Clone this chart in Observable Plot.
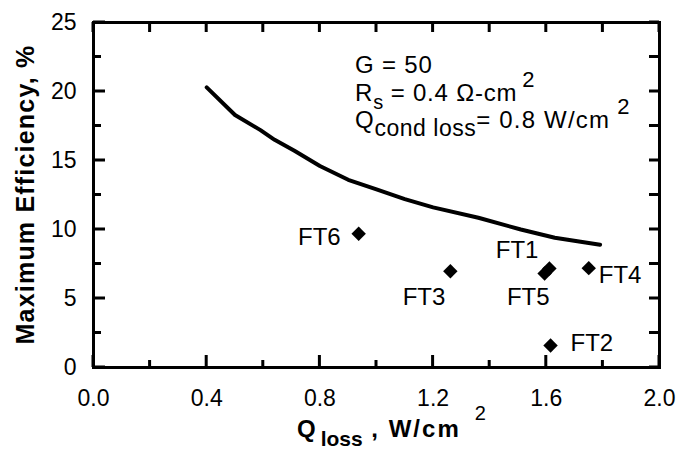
<!DOCTYPE html>
<html><head><meta charset="utf-8">
<script src="https://cdn.jsdelivr.net/npm/d3@7"></script>
<script src="https://cdn.jsdelivr.net/npm/@observablehq/plot@0.6"></script>
<style>body{margin:0;background:#fff}</style>
</head><body><div id="chart"></div>
<script>
// Model curve: maximum efficiency vs Q_loss
const curveQ   = [0.40, 0.50, 0.59, 0.64, 0.71, 0.80, 0.90, 1.00, 1.10, 1.20, 1.36, 1.51, 1.63, 1.79];
const curveEff = [20.3, 18.3, 17.2, 16.5, 15.7, 14.6, 13.6, 12.9, 12.2, 11.6, 10.85, 10.0, 9.4, 8.9];
// Measured cells
const cellNames = ["FT1", "FT2", "FT3", "FT4", "FT5", "FT6"];
const cellQ     = [1.611, 1.615, 1.261, 1.750, 1.594, 0.937];
const cellEff   = [7.17, 1.59, 6.98, 7.20, 6.81, 9.69];
// Tick values / labels
const xMajor = [0, 0.4, 0.8, 1.2, 1.6, 2.0];
const xMinor = [0.2, 0.6, 1.0, 1.4, 1.8];
const yMajor = [0, 5, 10, 15, 20, 25];
const yMinor = [2.5, 7.5, 12.5, 17.5, 22.5];
const xLabelMain = "Q", xLabelSub = "loss", xLabelRest = " , W/cm", xLabelSup = "2";
const yLabel = "Maximum Efficiency, %";
const annoLines = [
  {main: "G = 50"},
  {main: "R", sub: "s", rest: " = 0.4 Ω-cm", sup: "2"},
  {main: "Q", sub: "cond loss", rest: "= 0.8 W/cm", sup: "2"}
];
const annoX = 0.926, annoY = [21.3, 19.28, 17.32];

// label placement (pixel offsets, style only)
const labelPos = {
  FT1: {dx: -11, dy: -18, anchor: "end"},
  FT2: {dx: 20, dy: -2, anchor: "start"},
  FT3: {dx: -5, dy: 26, anchor: "end"},
  FT4: {dx: 10, dy: 7, anchor: "start"},
  FT5: {dx: 5, dy: 24, anchor: "end"},
  FT6: {dx: -18, dy: 4, anchor: "end"}
};

const font = "'Liberation Sans', Arial, Helvetica, sans-serif";
const cells = cellNames.map((n, i) => ({name: n, q: cellQ[i], eff: cellEff[i]}));
const curve = curveQ.map((v, i) => ({q: v, eff: curveEff[i]}));

const W = 684, H = 452, mL = 93, mR = 25, mT = 22, mB = 85;
const xMin = 0, xMax = 2, yMin = 0, yMax = 25;

const plot = Plot.plot({
  width: W, height: H,
  marginLeft: mL, marginRight: mR, marginTop: mT, marginBottom: mB,
  style: {fontFamily: font, fontSize: "23px", color: "#000", background: "#fff"},
  x: {domain: [xMin, xMax]},
  y: {domain: [yMin, yMax]},
  marks: [
    Plot.axisX(xMajor, {anchor: "bottom", tickSize: 0, tickPadding: 22, tickFormat: d => d.toFixed(1), label: null, fontSize: 23, letterSpacing: 2}),
    Plot.axisY(yMajor, {anchor: "left", tickSize: 0, tickPadding: 17, label: null, fontSize: 23}),
    Plot.line(curve, {x: "q", y: "eff", stroke: "#000", strokeWidth: 4, strokeLinejoin: "round", strokeLinecap: "round"}),
    Plot.dot(cells, {x: "q", y: "eff", symbol: "diamond2", r: 6.5, fill: "#000", stroke: "none"}),
    ...cells.map(c => Plot.text([c], {x: "q", y: "eff", text: "name", dx: labelPos[c.name].dx, dy: labelPos[c.name].dy, textAnchor: labelPos[c.name].anchor, fontSize: 24, fill: "#000"})),
    Plot.frame({stroke: "#000", strokeWidth: 3})
  ]
});
document.getElementById("chart").appendChild(plot);

const svg = d3.select(plot);
const sx = plot.scale("x"), sy = plot.scale("y");

// inward ticks on all four sides, placed with the plot's own scales
{
  const X = v => sx.apply(v), Y = v => sy.apply(v);
  const p = d3.path();
  xMajor.forEach(v => { p.moveTo(X(v), Y(yMin)); p.lineTo(X(v), Y(yMin) - 12); });
  xMinor.forEach(v => { p.moveTo(X(v), Y(yMin)); p.lineTo(X(v), Y(yMin) - 7); });
  xMajor.concat(xMinor).forEach(v => { p.moveTo(X(v), Y(yMax)); p.lineTo(X(v), Y(yMax) + 10); });
  yMajor.forEach(v => { p.moveTo(X(xMin), Y(v)); p.lineTo(X(xMin) + 12, Y(v)); });
  yMinor.forEach(v => { p.moveTo(X(xMin), Y(v)); p.lineTo(X(xMin) + 8, Y(v)); });
  yMajor.concat(yMinor).forEach(v => { p.moveTo(X(xMax), Y(v)); p.lineTo(X(xMax) - 10, Y(v)); });
  svg.append("path").attr("d", p.toString()).attr("fill", "none").attr("stroke", "#000").attr("stroke-width", 3);
}

// annotation block
annoLines.forEach((ln, i) => {
  const long = ln.sub && ln.sub.length > 1;
  const t = svg.append("text")
    .attr("x", sx.apply(annoX)).attr("y", sy.apply(annoY[i]))
    .attr("text-anchor", "start")
    .attr("font-family", font).attr("font-size", 24).attr("letter-spacing", 0.8).attr("fill", "#000");
  t.append("tspan").text(ln.main);
  if (ln.sub) t.append("tspan").attr("dy", 8).attr("font-size", long ? 23 : 20).attr("letter-spacing", long ? 0.5 : 0).text(ln.sub);
  if (ln.rest) t.append("tspan").attr("dy", ln.sub ? -8 : 0).attr("letter-spacing", long ? 1.2 : 0.8).text(ln.rest);
  if (ln.sup) t.append("tspan").attr("dy", -14).attr("dx", long ? 7 : 5).attr("font-size", 22).text(ln.sup);
});

// x axis label
{
  const t = svg.append("text")
    .attr("x", 297).attr("y", 437)
    .attr("text-anchor", "start")
    .attr("font-family", font).attr("font-size", 24).attr("font-weight", "bold").attr("letter-spacing", 2).attr("fill", "#000");
  t.append("tspan").text(xLabelMain);
  t.append("tspan").attr("dy", 9).attr("dx", 3).attr("font-size", 21).attr("letter-spacing", 0).text(xLabelSub);
  t.append("tspan").attr("dy", -9).text(xLabelRest);
  t.append("tspan").attr("dy", -17).attr("dx", 14).attr("font-size", 20).attr("font-weight", "normal").text(xLabelSup);
}
// y axis label
svg.append("text")
  .attr("transform", `translate(34,${(sy.apply(yMin) + sy.apply(yMax)) / 2}) rotate(-90)`)
  .attr("text-anchor", "middle")
  .attr("font-family", font).attr("font-size", 25).attr("font-weight", "bold").attr("letter-spacing", 1.2).attr("fill", "#000")
  .text(yLabel);
</script>
</body></html>
